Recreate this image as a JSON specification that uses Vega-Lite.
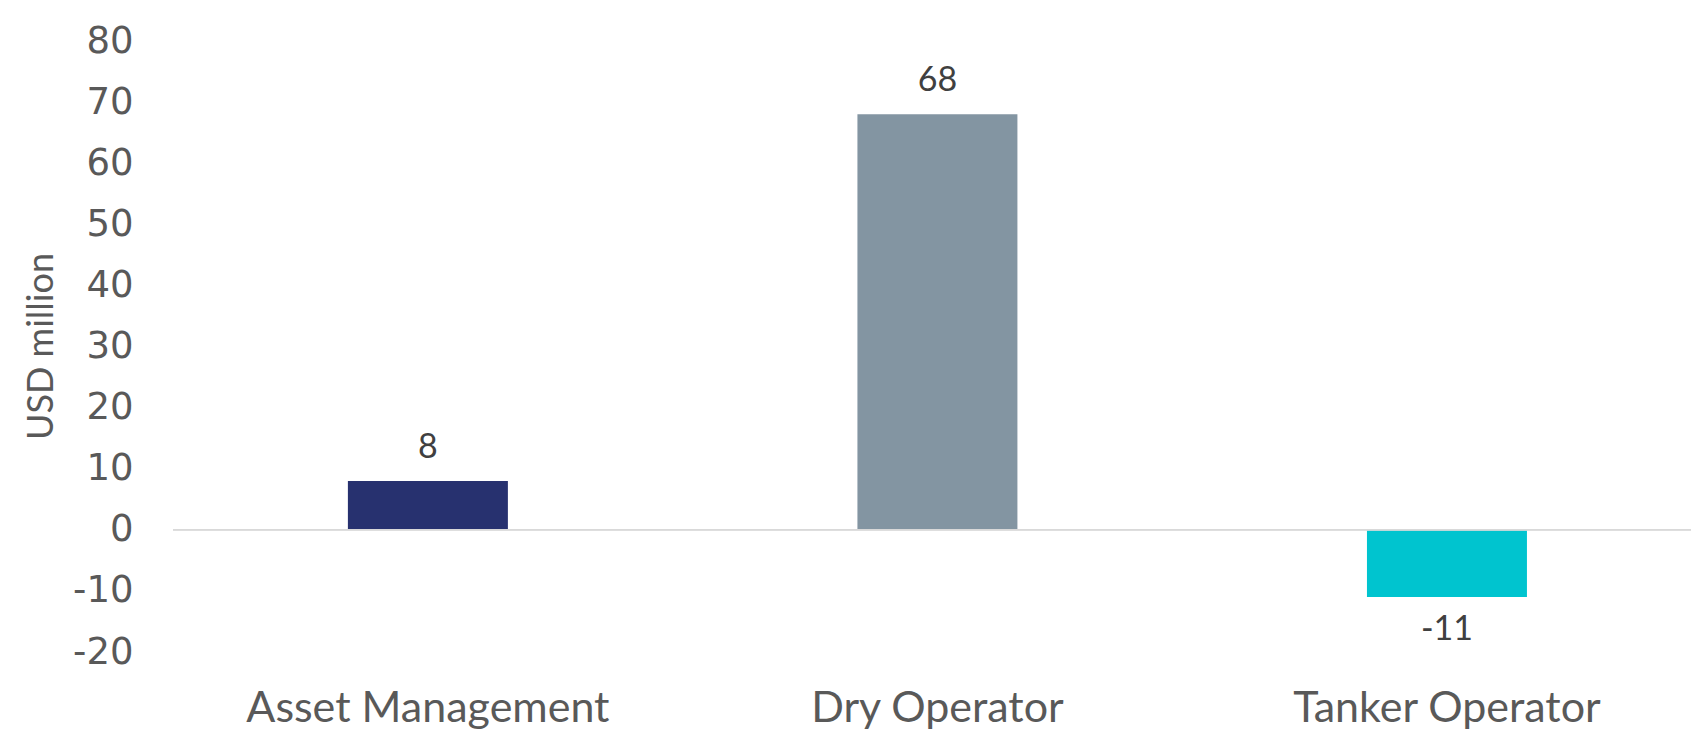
{
  "$schema": "https://vega.github.io/schema/vega-lite/v6.json",
  "autosize": "none",
  "width": 1518,
  "height": 611,
  "padding": {"left": 173, "top": 41, "right": 0, "bottom": 77},
  "background": "white",
  "config": {"view": {"stroke": null}, "font": "Lato"},
  "data": {"values": [
    {"segment": "Asset Management", "value": 8},
    {"segment": "Dry Operator", "value": 68},
    {"segment": "Tanker Operator", "value": -11}
  ]},
  "encoding": {
    "x": {"field": "segment", "type": "nominal", "sort": null,
      "scale": {"paddingInner": 0.686, "paddingOuter": 0.3326, "align": 0.516},
      "axis": {"title": null, "domain": false, "ticks": false, "labelAngle": 0, "labelLimit": 0,
        "labelFont": "Lato", "labelFontSize": 43, "labelColor": "#595959",
        "labelBaseline": "alphabetic", "labelPadding": 69}},
    "y": {"field": "value", "type": "quantitative",
      "scale": {"domain": [-20, 80], "nice": false, "zero": false},
      "axis": {"values": [-20, -10, 0, 10, 20, 30, 40, 50, 60, 70, 80],
        "labelExpr": "'' + datum.value", "grid": false, "domain": false, "ticks": false,
        "labelFont": "DejaVu Sans", "labelFontSize": 37, "labelColor": "#595959", "labelPadding": 40,
        "title": "USD million", "titleFont": "Lato", "titleFontSize": 36, "titleFontWeight": "normal",
        "titleColor": "#595959", "titleX": -132, "titleY": 305, "titleAlign": "center",
        "titleBaseline": "middle", "titleAngle": -90}}
  },
  "layer": [
    {
      "mark": {"type": "bar"},
      "encoding": {
        "color": {"field": "segment", "type": "nominal", "legend": null,
          "scale": {"domain": ["Asset Management", "Dry Operator", "Tanker Operator"],
            "range": ["#27316F", "#8395A2", "#00C4CF"]}}
      }
    },
    {
      "mark": {"type": "rule", "color": "#D9D9D9", "strokeWidth": 1.5},
      "encoding": {"y": {"datum": 0, "type": "quantitative"}, "x": null}
    },
    {
      "transform": [{"filter": "datum.value >= 0"}],
      "mark": {"type": "text", "dy": -33, "baseline": "middle", "fontSize": 34, "font": "Lato", "color": "#404040"},
      "encoding": {"text": {"field": "value", "type": "nominal"}}
    },
    {
      "transform": [{"filter": "datum.value < 0"}],
      "mark": {"type": "text", "dy": 33, "baseline": "middle", "fontSize": 34, "font": "Lato", "color": "#404040"},
      "encoding": {"text": {"field": "value", "type": "nominal"}}
    }
  ]
}
